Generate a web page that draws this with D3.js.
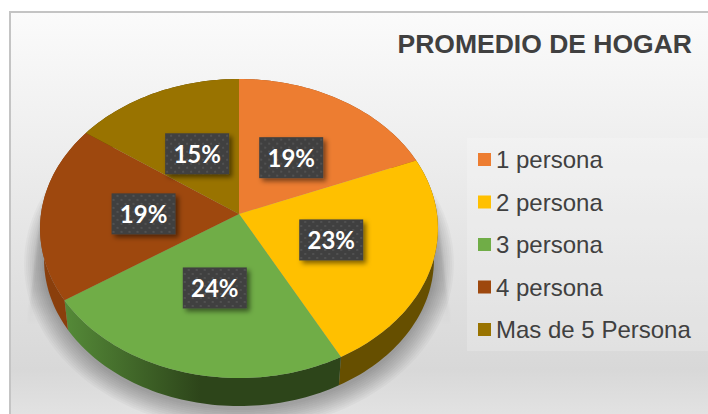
<!DOCTYPE html>
<html>
<head>
<meta charset="utf-8">
<script src="https://cdn.jsdelivr.net/npm/d3@7"></script>
<style>
  html, body { margin: 0; padding: 0; background: #fff; }
  svg { display: block; }
</style>
</head>
<body>
<svg id="chart"></svg>
<script>
var categories = ["1 persona", "2 persona", "3 persona", "4 persona", "Mas de 5 Persona"];
var shares = [18.9, 23.3, 23.5, 19.1, 15.2];
var colors = ["#ED7D31", "#FFC000", "#70AD47", "#9E480E", "#997300"];
// lighter / darker tones of the rim, left to right
var rimLight = ["#8e4b1d", "#664f00", "#558a38", "#8a3f0c", "#5c4500"];
var rimDark = ["#8e4b1d", "#664f00", "#2d451a", "#7c380b", "#5c4500"];
var title = "PROMEDIO DE HOGAR";

var width = 708, height = 414;

var svg = d3.select("#chart").attr("width", width).attr("height", height);
var defs = svg.append("defs");

// the disc is a unit circle seen in perspective
var cx = 239, cy = 214, sx = 198, sy = 148.1, k = 0.097;
var rimShift = 31.3, rimScale = 0.98;

function project(angle, r) {
  var u = Math.sin(angle) * r, v = -Math.cos(angle) * r, w = 1 - k * v;
  return [cx + sx * u / w, cy + sy * v / w];
}
function projectLow(angle, r) {
  var p = project(angle, r);
  return [cx + (p[0] - cx) * rimScale, cy + (p[1] - cy) * rimScale + rimShift];
}
function edge(a0, a1, fn) {
  var n = Math.max(2, Math.ceil(Math.abs(a1 - a0) * 40));
  return d3.range(n + 1).map(function (i) { return fn(a0 + (a1 - a0) * i / n, 1); });
}

var line = d3.line();
var pie = d3.pie().sort(null).value(function (d) { return d; });
var slices = pie(shares);

// panel background
var bg = defs.append("linearGradient").attr("id", "bg").attr("x1", 0).attr("y1", 0).attr("x2", 0).attr("y2", 1);
bg.append("stop").attr("offset", 0).attr("stop-color", "#fbfbfb");
bg.append("stop").attr("offset", 0.89).attr("stop-color", "#d8d8d8");
bg.append("stop").attr("offset", 1).attr("stop-color", "#e2e2e2");

svg.append("rect")
  .attr("x", 10).attr("y", 12)
  .attr("width", width).attr("height", 402)
  .attr("fill", "url(#bg)");
svg.append("path")
  .attr("d", "M10," + height + "V12H" + width)
  .attr("fill", "none")
  .attr("stroke", "#c4c4c4").attr("stroke-width", 2);

// shadow under the pie
defs.append("filter").attr("id", "softBlur").attr("x", "-10%").attr("y", "-10%").attr("width", "120%").attr("height", "120%")
  .append("feGaussianBlur").attr("stdDeviation", 1);

// faint cast wedge on both sides, fading out downwards
var wedge = defs.append("linearGradient").attr("id", "wedge").attr("x1", 0).attr("y1", 0).attr("x2", 0).attr("y2", 1);
wedge.append("stop").attr("offset", 0).attr("stop-color", "#000").attr("stop-opacity", 0.1);
wedge.append("stop").attr("offset", 0.7).attr("stop-color", "#000").attr("stop-opacity", 0.07);
wedge.append("stop").attr("offset", 1).attr("stop-color", "#000").attr("stop-opacity", 0);

svg.append("path")
  .attr("d", line([
    [cx - sx * 0.995, 205], [cx - sx * 1.07, 325],
    [cx + sx * 1.07, 325], [cx + sx * 0.995, 205]
  ]) + "Z")
  .attr("fill", "url(#wedge)")
  .attr("filter", "url(#softBlur)");

// soft shadow: a stack of growing translucent discs around the lower rim
var fullCircle = d3.range(0, 121).map(function (i) { return i / 120 * 2 * Math.PI; });
var lowMid = (projectLow(0, 1)[1] + projectLow(Math.PI, 1)[1]) / 2;
d3.range(0, 22, 2).forEach(function (grow) {
  svg.append("path")
    .attr("d", line(fullCircle.map(function (a) {
      var p = projectLow(a, 1);
      return [cx + (p[0] - cx) * (1 + grow / 195), lowMid + (p[1] - lowMid) * (1 + grow / 147) + 4];
    })) + "Z")
    .attr("fill", "#000")
    .attr("opacity", 0.028);
});

// rim
slices.forEach(function (d, i) {
  var grad = defs.append("linearGradient").attr("id", "rim" + i)
    .attr("gradientUnits", "userSpaceOnUse")
    .attr("x1", 65).attr("y1", 0).attr("x2", 200).attr("y2", 0);
  grad.append("stop").attr("offset", 0).attr("stop-color", rimLight[i]);
  grad.append("stop").attr("offset", 1).attr("stop-color", rimDark[i]);

  var top = edge(d.startAngle, d.endAngle, project);
  var low = edge(d.endAngle, d.startAngle, projectLow);
  svg.append("path")
    .attr("d", line(top.concat(low)) + "Z")
    .attr("fill", "url(#rim" + i + ")");
});

// top face
slices.forEach(function (d, i) {
  var pts = [[cx, cy]].concat(edge(d.startAngle, d.endAngle, project));
  svg.append("path")
    .attr("d", line(pts) + "Z")
    .attr("fill", colors[i]);
});

// data labels
var dots = defs.append("pattern").attr("id", "dots")
  .attr("patternUnits", "userSpaceOnUse").attr("width", 8).attr("height", 8);
dots.append("rect").attr("width", 8).attr("height", 8).attr("fill", "#404040");
dots.append("circle").attr("cx", 2).attr("cy", 2).attr("r", 1.1).attr("fill", "#555");
dots.append("circle").attr("cx", 6).attr("cy", 6).attr("r", 1.1).attr("fill", "#555");

var boxShadow = defs.append("filter").attr("id", "boxShadow").attr("x", "-20%").attr("y", "-20%").attr("width", "150%").attr("height", "150%");
boxShadow.append("feDropShadow").attr("dx", 3).attr("dy", 3).attr("stdDeviation", 2.5)
  .attr("flood-color", "#000").attr("flood-opacity", 0.5);

var boxW = 64, boxH = 41;
var labels = svg.selectAll("g.lab").data(slices).enter().append("g")
  .attr("class", "lab")
  .attr("transform", function (d) {
    var p = project((d.startAngle + d.endAngle) / 2, 0.485);
    return "translate(" + (p[0] + 0.5) + "," + (p[1] + 1) + ")";
  });
labels.append("rect")
  .attr("x", -boxW / 2).attr("y", -boxH / 2)
  .attr("width", boxW).attr("height", boxH)
  .attr("fill", "url(#dots)")
  .attr("filter", "url(#boxShadow)");
labels.append("text")
  .attr("text-anchor", "middle")
  .attr("y", 9)
  .attr("font-family", "Lato, 'Open Sans', sans-serif")
  .attr("font-weight", "bold")
  .attr("font-size", 24)
  .attr("fill", "#fff")
  .text(function (d) { return Math.round(d.data) + "%"; });

// title
svg.append("text")
  .attr("x", 692).attr("y", 53)
  .attr("text-anchor", "end")
  .attr("font-family", "'Liberation Sans', Arial, sans-serif")
  .attr("font-weight", "bold")
  .attr("font-size", 26.5)
  .attr("fill", "#404040")
  .text(title);

// legend
svg.append("rect")
  .attr("x", 467).attr("y", 138)
  .attr("width", 241).attr("height", 213)
  .attr("fill", "#fff").attr("opacity", 0.2);

var legendY = d3.scalePoint().domain(categories).range([159.5, 329.5]);
var legend = svg.selectAll("g.leg").data(categories).enter().append("g")
  .attr("class", "leg")
  .attr("transform", function (d) { return "translate(478," + legendY(d) + ")"; });
legend.append("rect")
  .attr("x", 0).attr("y", -6.5)
  .attr("width", 13).attr("height", 13)
  .attr("fill", function (d, i) { return colors[i]; });
legend.append("text")
  .attr("x", 18).attr("y", 8.5)
  .attr("font-family", "'Liberation Sans', Arial, sans-serif")
  .attr("font-size", 24)
  .attr("fill", "#404040")
  .text(function (d) { return d; });
</script>
</body>
</html>
